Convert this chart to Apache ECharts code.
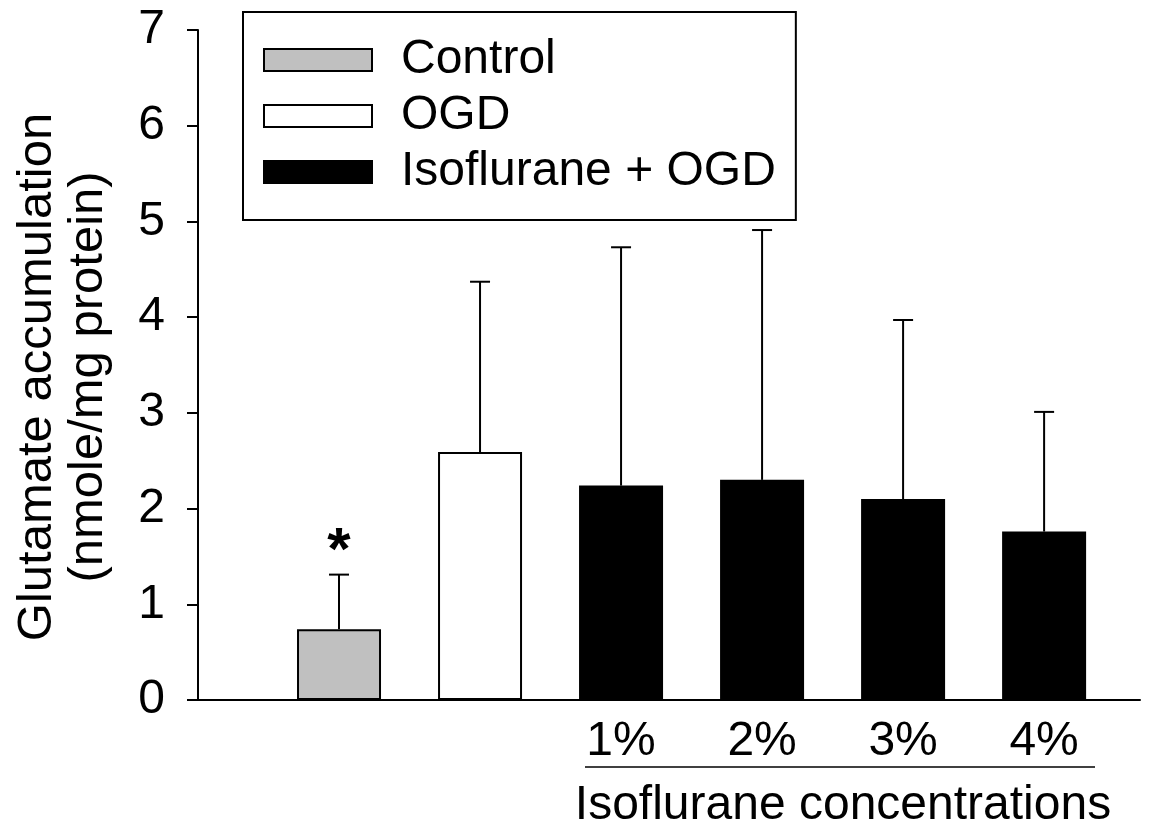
<!DOCTYPE html>
<html>
<head>
<meta charset="utf-8">
<script src="https://cdn.jsdelivr.net/npm/echarts@6/dist/echarts.min.js"></script>
<style>
html,body{margin:0;padding:0;background:#fff;}
#chart{width:1157px;height:834px;}
</style>
</head>
<body>
<div id="chart"></div>
<script>
// ---- data ----
var groupNames = ['Control', 'OGD', 'Isoflurane + OGD'];
var groupOfBar = [0, 1, 2, 2, 2, 2];          // which legend group each bar belongs to
var barPositions = [1, 2, 3, 4, 5, 6];          // x positions of bars
var barMeans = [0.74, 2.59, 2.24, 2.30, 2.10, 1.76];
var barUpperErr = [1.31, 4.37, 4.73, 4.91, 3.97, 3.01];
var significance = ['*', '', '', '', '', ''];
var xTickLabels = ['', '', '', '1%', '2%', '3%', '4%'];
var yTicks = [0, 1, 2, 3, 4, 5, 6, 7];
var groupColors = ['#c0c0c0', '#ffffff', '#000000'];

var FONT = '"Liberation Sans", Arial, sans-serif';

var chart = echarts.init(document.getElementById('chart'));

var barSeries = groupNames.map(function (name, g) {
  var data = [];
  for (var i = 0; i < barMeans.length; i++) {
    if (groupOfBar[i] === g) data.push([barPositions[i], barMeans[i]]);
  }
  return {
    name: name,
    type: 'bar',
    data: data,
    barWidth: 84,
    barGap: '-100%',
    itemStyle: { color: groupColors[g], borderColor: '#000', borderWidth: 2 },
    z: 2
  };
});

var errData = barMeans.map(function (m, i) { return [barPositions[i], m, barUpperErr[i]]; });

var errSeries = {
  type: 'custom',
  name: 'err',
  data: errData,
  z: 5,
  renderItem: function (params, api) {
    var x = api.value(0), m = api.value(1), e = api.value(2);
    var p0 = api.coord([x, m]);
    var p1 = api.coord([x, e]);
    var children = [
      { type: 'line', shape: { x1: p0[0], y1: p0[1], x2: p1[0], y2: p1[1] }, style: { stroke: '#000', lineWidth: 2 } },
      { type: 'line', shape: { x1: p1[0] - 10, y1: p1[1], x2: p1[0] + 10, y2: p1[1] }, style: { stroke: '#000', lineWidth: 2 } }
    ];
    var mark = significance[params.dataIndex];
    if (mark) {
      children.push({
        type: 'text',
        style: { text: mark, x: p1[0], y: p1[1] - 22, align: 'center', verticalAlign: 'middle',
                 font: 'bold 60px ' + FONT, fill: '#000' }
      });
    }
    return { type: 'group', children: children };
  }
};

chart.setOption({
  backgroundColor: '#fff',
  animation: false,
  textStyle: { fontFamily: FONT },
  grid: { left: 198, top: 30, right: 17, bottom: 134, containLabel: false, outerBoundsMode: 'none' },
  legend: {
    data: groupNames,
    orient: 'vertical',
    left: 243,
    top: 12,
    icon: 'rect',
    itemWidth: 108,
    itemHeight: 22,
    itemGap: 8,
    padding: [24, 20, 24, 20],
    borderColor: '#000',
    borderWidth: 2,
    selectedMode: false,
    textStyle: { fontSize: 48, lineHeight: 48, color: '#000', fontFamily: FONT, padding: [0, 0, 0, 24] }
  },
  xAxis: {
    type: 'value',
    min: 0,
    max: 6.68,
    interval: 1,
    splitLine: { show: false },
    axisTick: { show: false },
    axisLine: { show: true, onZero: false, lineStyle: { color: '#000', width: 2 } },
    axisLabel: {
      showMaxLabel: false,
      fontSize: 48, color: '#000', margin: 18, fontFamily: FONT,
      formatter: function (v) { var s = xTickLabels[Math.round(v)]; return (s === undefined || Math.abs(v - Math.round(v)) > 1e-6) ? '' : s; }
    }
  },
  yAxis: {
    type: 'value',
    min: yTicks[0],
    max: yTicks[yTicks.length - 1],
    interval: 1,
    splitLine: { show: false },
    axisLine: { show: true, lineStyle: { color: '#000', width: 2 } },
    axisTick: { show: true, length: 11, lineStyle: { color: '#000', width: 2 } },
    axisLabel: { fontSize: 48, color: '#000', margin: 33, fontFamily: FONT },
    name: 'Glutamate accumulation\n(nmole/mg protein)',
    nameLocation: 'middle',
    nameRotate: 90,
    nameGap: 84,
    nameTextStyle: { fontSize: 49, lineHeight: 51, color: '#000', fontFamily: FONT, padding: [0, 24, 0, 0] }
  },
  graphic: [
    { type: 'line', shape: { x1: 585, y1: 767, x2: 1095, y2: 767 }, style: { stroke: '#000', lineWidth: 1.5 } },
    { type: 'text', x: 843, y: 806, style: { text: 'Isoflurane concentrations', align: 'center', verticalAlign: 'middle', font: '48px ' + FONT, fill: '#000' } }
  ],
  series: barSeries.concat([errSeries])
});
</script>
</body>
</html>
